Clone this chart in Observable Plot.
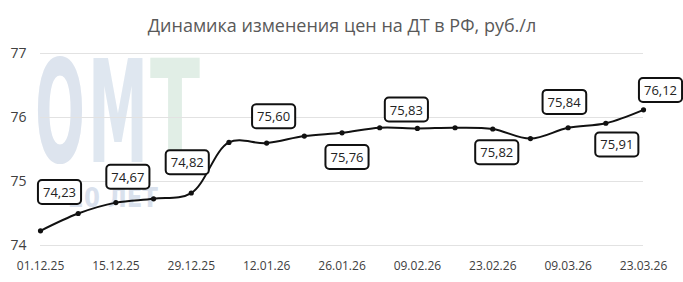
<!DOCTYPE html>
<html><head><meta charset="utf-8">
<script src="https://cdn.jsdelivr.net/npm/d3@7"></script>
<script src="https://cdn.jsdelivr.net/npm/@observablehq/plot@0.6"></script>
<style>
body{margin:0;background:#fff}
#chart svg{font-family:"Open Sans",sans-serif;background:transparent}
</style>
</head><body><div id="chart"></div>
<script>
// ---- data ----
const title = "Динамика изменения цен на ДТ в РФ, руб./л";
const dates = ["2025-12-01","2025-12-08","2025-12-15","2025-12-22","2025-12-29",
  "2026-01-05","2026-01-12","2026-01-19","2026-01-26","2026-02-02","2026-02-09",
  "2026-02-16","2026-02-23","2026-03-02","2026-03-09","2026-03-16","2026-03-23"];
const prices = [74.23,74.50,74.67,74.73,74.82,75.61,75.60,75.71,75.76,75.84,75.83,
  75.84,75.82,75.67,75.84,75.91,76.12];
const labelDates = ["2025-12-01","2025-12-15","2025-12-29","2026-01-12","2026-01-26",
  "2026-02-09","2026-02-23","2026-03-09","2026-03-16","2026-03-23"];
const xTickLabels = ["01.12.25","15.12.25","29.12.25","12.01.26","26.01.26","09.02.26","23.02.26","09.03.26","23.03.26"];
const yTicks = [74,75,76,77];
const watermarkTexts = ["О","М","Т","20 ЛЕТ"];

// ---- layout (pixel offsets / boxes, kept apart from data) ----
const labelDx = [19,12,-4,7,5,-11,4,-4,11,17];
const labelDy = [-38,-25,-30,-26,25,-18,24,-25,22,-19];
// watermark boxes: [left, baseline, width, fontSize, colour]
const wmBoxes = [[35,162,50,143,"#dde4ee"],[88,162,60,143,"#dfe7f0"],[150,162,50,143,"#e1eee6"],[68,207,90,27,"#d9e1ed"]];

const parse = d3.utcParse("%Y-%m-%d");
const parseTick = d3.utcParse("%d.%m.%y");
const data = dates.map((d,i)=>({date:parse(d), price:prices[i]}));
const byDate = new Map(data.map(d=>[+d.date,d]));
const labels = labelDates.map(s=>byDate.get(+parse(s)));
const fmt = v => v.toFixed(2).replace(".", ",");

const watermark = () => {
  const g = d3.create("svg:g").attr("class","wm").attr("text-anchor","start")
    .attr("font-family","DejaVu Sans Condensed, DejaVu Sans, sans-serif").attr("font-weight","bold");
  watermarkTexts.forEach((t,i)=>{
    const [x,y,w,fs,c] = wmBoxes[i];
    g.append("text").attr("font-size",fs).attr("fill",c).attr("text-anchor","start")
      .attr("data-x",x).attr("data-y",y).attr("data-w",w).text(t);
  });
  return g.node();
};

const chart = Plot.plot({
  width: 683, height: 282,
  marginTop: 53, marginBottom: 37, marginLeft: 40, marginRight: 40,
  style: {fontFamily:"Open Sans, sans-serif", fontSize:"14px", color:"#404040", background:"transparent"},
  x: {type:"utc", domain:[parse(dates[0]), parse(dates[dates.length-1])],
      ticks: xTickLabels.map(parseTick), tickFormat: d3.utcFormat("%d.%m.%y"),
      tickSize:0, tickPadding:16, label:null},
  y: {domain:[74,77], ticks: yTicks, tickFormat: d=>String(d), tickSize:0, tickPadding:14, label:null},
  marks: [
    watermark,
    Plot.ruleY(yTicks, {stroke:"#e2e2e2", strokeWidth:1}),
    Plot.line(data, {x:"date", y:"price", curve:"catmull-rom", stroke:"#111", strokeWidth:2}),
    Plot.dot(data, {x:"date", y:"price", r:2.6, fill:"#111"}),
    ...labels.map((d,i)=>Plot.text([d], {x:"date", y:"price", text:d=>fmt(d.price),
        dx:labelDx[i], dy:labelDy[i], lineAnchor:"middle", fontSize:13, fill:"#222"})),
    Plot.text([title], {frameAnchor:"top", dy:-27, lineAnchor:"middle", fontSize:18, fill:"#595959"})
  ]
});
document.getElementById("chart").appendChild(chart);

// x tick labels smaller
d3.select(chart).selectAll('[aria-label^="x-axis"] text').attr("font-size", 12);

// watermark: stretch glyphs to their boxes
d3.select(chart).selectAll("g.wm text").each(function(){
  const len = this.getComputedTextLength() || 1;
  const x = +this.getAttribute("data-x"), y = +this.getAttribute("data-y"), w = +this.getAttribute("data-w");
  this.setAttribute("transform", `translate(${x},${y}) scale(${w/len},1)`);
});

// label boxes
d3.select(chart).selectAll("text").each(function(){
  const txt = this.textContent;
  if (!/^\d+,\d+$/.test(txt)) return;
  const b = this.getBBox();
  const w = Math.max(43, b.width + 10), h = 24;
  const cx = b.x + b.width/2, cy = b.y + b.height/2;
  const r = d3.create("svg:rect").attr("x",cx-w/2).attr("y",cy-h/2).attr("width",w).attr("height",h)
      .attr("rx",4).attr("fill","#fff").attr("stroke","#111").attr("stroke-width",2);
  const tr = this.getAttribute("transform");
  if (tr) r.attr("transform", tr);
  this.parentNode.insertBefore(r.node(), this);
});
</script>
</body></html>
